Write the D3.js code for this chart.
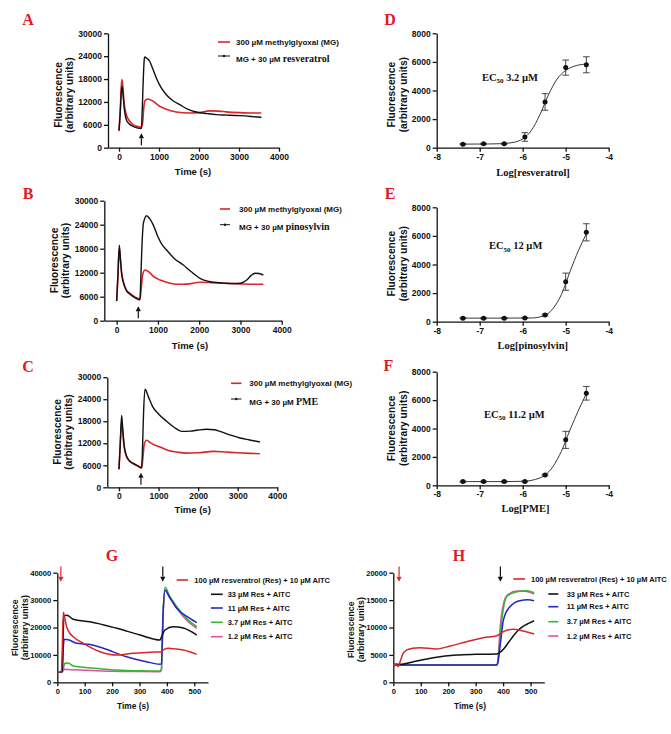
<!DOCTYPE html>
<html><head><meta charset="utf-8">
<script src="https://cdn.jsdelivr.net/npm/d3@7"></script>
<style>body{margin:0;background:#fff}</style>
</head><body>
<svg id="chart" width="671" height="734" style="background:#fff"></svg>
<script>
// ---------------- DATA ----------------
// Time-course panels A-C: [time (s), fluorescence]
const timeTicksAC = [0, 1000, 2000, 3000, 4000];
const fluoTicksAC = [0, 6000, 12000, 18000, 24000, 30000];

const A_MG = [[0,4460],[30,9500],[60,16500],[75,17850],[100,15500],[130,11500],[183,8660],[250,7200],[350,6040],[450,5600],[560,5300],[590,6500],[620,10500],[650,12300],[725,12780],[850,12200],[1017,10860],[1200,10000],[1433,9370],[1767,9100],[2000,9200],[2267,9650],[2500,9600],[2683,9400],[3000,9200],[3300,9100],[3558,9100]];
const A_RES = [[0,4460],[30,9000],[60,15000],[80,16000],[100,14000],[130,10500],[183,7350],[250,6300],[350,5600],[450,5200],[558,4990],[575,8000],[600,16000],[630,23000],[643,23800],[700,23400],[767,22670],[850,20500],[933,18300],[1050,15800],[1183,13900],[1350,12300],[1517,11290],[1700,10200],[1933,9370],[2200,8950],[2433,8660],[2700,8550],[3017,8400],[3300,8200],[3558,7980]];

const B_MG = [[0,4925],[30,11000],[64,18100],[90,15500],[120,12000],[162,9750],[230,7800],[323,6850],[450,5900],[565,5425],[590,7500],[630,11500],[687,12675],[780,12200],[900,11000],[1050,10175],[1250,9500],[1455,9100],[1700,9150],[2020,9600],[2300,9500],[2600,9350],[3000,9200],[3300,9100],[3555,9100]];
const B_PIN = [[0,4925],[30,11500],[64,18900],[90,15500],[120,11800],[162,9500],[230,7600],[323,6600],[450,5700],[565,5200],[580,9000],[610,18000],[650,24500],[727,26250],[800,25500],[888,23900],[1000,21000],[1100,19000],[1212,17675],[1400,15500],[1616,13925],[1800,12300],[2020,10600],[2200,9900],[2343,9600],[2600,9400],[2800,9300],[2990,9350],[3080,9700],[3152,10175],[3250,11200],[3353,11850],[3450,11800],[3555,11425]];

const C_MG = [[0,4900],[30,11000],[67,17800],[95,15000],[130,11000],[194,8250],[260,7200],[361,6430],[470,5800],[573,5260],[600,7500],[640,11800],[700,12800],[800,12100],[900,11500],[1035,10980],[1250,10000],[1457,9600],[1700,9300],[2000,9400],[2383,9800],[2700,9600],[3000,9400],[3300,9250],[3560,9160]];
const C_PME = [[0,4900],[30,11500],[67,19600],[95,16000],[130,11500],[194,8500],[260,7300],[361,6500],[470,5900],[573,5300],[590,9000],[620,20000],[657,26700],[750,24500],[850,22000],[993,20050],[1204,17980],[1400,16300],[1583,15250],[1800,15300],[2000,15600],[2214,15800],[2400,15700],[2550,15250],[2800,14300],[3056,13430],[3300,12900],[3560,12340]];

// Concentration-response panels D-F
const logConc = [-7.39, -6.91, -6.43, -5.95, -5.48, -5.0, -4.52];
const logTicks = [-8, -7, -6, -5, -4];
const fluoTicksDF = [0, 2000, 4000, 6000, 8000];
const D_mean = [250, 270, 280, 750, 3200, 5600, 5800];
const D_err  = [40, 40, 40, 300, 580, 530, 560];
const E_mean = [250, 240, 250, 260, 470, 2800, 6250];
const E_err  = [40, 40, 40, 40, 60, 600, 600];
const F_mean = [260, 260, 260, 270, 720, 3200, 6480];
const F_err  = [40, 40, 40, 40, 60, 600, 480];
// fitted curves: [log conc, fluorescence]
const D_fit = [[-7.39,250],[-6.8,260],[-6.5,280],[-6.2,380],[-6.0,620],[-5.8,1200],[-5.6,2300],[-5.4,3700],[-5.2,4800],[-5.0,5400],[-4.8,5700],[-4.52,5850]];
const E_fit = [[-7.39,250],[-6.5,250],[-5.8,260],[-5.5,420],[-5.3,900],[-5.1,1900],[-4.9,3500],[-4.7,5000],[-4.52,6150]];
const F_fit = [[-7.39,260],[-6.5,260],[-6.0,280],[-5.7,420],[-5.48,720],[-5.3,1300],[-5.1,2400],[-4.9,3900],[-4.7,5300],[-4.52,6450]];

// Panels G, H: [time (s), fluorescence]
const timeTicksGH = [0, 100, 200, 300, 400, 500];
const fluoTicksG = [0, 10000, 20000, 30000, 40000];
const fluoTicksH = [0, 5000, 10000, 15000, 20000];
const G_100 = [[0,3870],[15,3870],[18,12000],[22,25550],[28,23000],[34,20300],[45,18000],[58,16640],[95,14230],[156,11170],[217,9960],[277,10580],[340,11000],[378,11100],[390,12000],[405,12400],[430,12200],[460,11800],[509,10200]];
const G_33  = [[0,3870],[18,3870],[21,15000],[24,24200],[35,24500],[58,23000],[119,22100],[217,19700],[302,17260],[375,15440],[380,16500],[393,19090],[423,20300],[460,19800],[509,17260]];
const G_11  = [[0,3870],[18,3870],[22,13000],[27,15700],[40,15500],[71,14230],[120,13800],[168,12400],[253,9340],[326,7520],[375,6570],[380,6700],[386,25000],[393,33700],[410,31000],[436,27000],[484,23360],[509,21750]];
const G_3_7 = [[0,3870],[18,3870],[28,6930],[40,7000],[58,5950],[95,5470],[150,5000],[217,4490],[300,4200],[375,4120],[380,5000],[386,25000],[393,34670],[410,31500],[436,27600],[480,22500],[509,20300]];
const G_1_2 = [[0,3870],[18,3870],[25,4740],[50,4600],[100,4380],[200,4000],[300,3900],[375,3870],[380,4500],[386,24000],[393,33500],[410,31000],[436,27000],[480,21900],[509,19700]];

const H_100 = [[0,3280],[12,3280],[18,2850],[25,3800],[35,5200],[49,5900],[70,6200],[97,6320],[158,6080],[207,6620],[267,7410],[328,8140],[377,8500],[390,8900],[401,9240],[436,9670],[474,9360],[513,8810]];
const H_33  = [[0,3300],[30,3300],[73,3760],[146,4490],[231,4980],[300,5100],[377,5160],[390,5500],[401,6020],[420,7300],[437,8450],[455,9500],[474,10270],[495,10800],[513,11240]];
const H_11  = [[0,3160],[100,3160],[200,3160],[300,3160],[375,3160],[380,3400],[390,7000],[401,11370],[425,13800],[461,14900],[490,15050],[513,14900]];
const H_3_7 = [[0,3160],[100,3160],[200,3160],[300,3160],[378,3160],[384,5000],[392,10000],[401,13500],[413,15620],[450,16530],[486,16720],[513,16350]];
const H_1_2 = [[0,3160],[100,3160],[200,3160],[300,3160],[378,3160],[383,5500],[390,10500],[400,14000],[413,15800],[450,16650],[480,16600],[513,16100]];

// ---------------- DRAWING ----------------
const svg = d3.select("#chart");
const SANS = "'Liberation Sans', Arial, sans-serif";
const SERIF = "'Liberation Serif', 'Times New Roman', serif";
const RED = "#d8262c", BLACK = "#111111", BLUE = "#2626c4", GREEN = "#36b436", PINK = "#e050a8", LABELRED = "#e3181f";

function styleAxis(a, fs) {
  a.select(".domain").attr("stroke", BLACK).attr("stroke-width", 1.3);
  a.selectAll(".tick line").attr("stroke", BLACK).attr("stroke-width", 1.3);
  a.selectAll("text").attr("font-family", SANS).attr("font-weight", "bold")
    .attr("font-size", fs).attr("fill", BLACK);
}
function drawAxes(x, y, xTicks, yTicks, fs) {
  const fmt = d => String(d);
  const gx = svg.append("g").attr("transform", `translate(0,${y.range()[0]})`)
    .call(d3.axisBottom(x).tickValues(xTicks).tickSize(4).tickSizeOuter(0).tickPadding(2).tickFormat(fmt));
  const gy = svg.append("g").attr("transform", `translate(${x.range()[0]},0)`)
    .call(d3.axisLeft(y).tickValues(yTicks).tickSize(4).tickSizeOuter(0).tickPadding(2).tickFormat(fmt));
  styleAxis(gx, fs); styleAxis(gy, fs);
}
function yTitle(cx, cy, fs, dx) {
  [["Fluorescence", 0], ["(arbitrary units)", dx]].forEach(([t, off]) => {
    svg.append("text").attr("transform", `translate(${cx + off},${cy}) rotate(-90)`)
      .attr("text-anchor", "middle").attr("dy", "0.35em")
      .attr("font-family", SANS).attr("font-weight", "bold").attr("font-size", fs)
      .attr("fill", BLACK).text(t);
  });
}
function xTitle(cx, cy, fs, text, serif) {
  svg.append("text").attr("x", cx).attr("y", cy).attr("dy", "0.35em").attr("text-anchor", "middle")
    .attr("font-family", serif ? SERIF : SANS).attr("font-weight", "bold").attr("font-size", fs)
    .attr("fill", BLACK).text(text);
}
function panelLabel(cx, cy, t) {
  svg.append("text").attr("x", cx).attr("y", cy).attr("dy", "0.35em").attr("text-anchor", "middle")
    .attr("font-family", SERIF).attr("font-weight", "bold").attr("font-size", 16)
    .attr("fill", LABELRED).text(t);
}
function drawLine(x, y, data, color, w) {
  const line = d3.line().x(d => x(d[0])).y(d => y(d[1])).curve(d3.curveMonotoneX);
  svg.append("path").datum(data).attr("d", line).attr("fill", "none")
    .attr("stroke", color).attr("stroke-width", w).attr("stroke-linejoin", "round");
}
function arrow(px, yTop, yBot, color, up) {
  const tip = up ? yTop : yBot, base = up ? yTop + 5 : yBot - 5;
  svg.append("line").attr("x1", px).attr("x2", px).attr("y1", up ? base : yTop).attr("y2", up ? yBot : base)
    .attr("stroke", color).attr("stroke-width", 1.2);
  svg.append("path").attr("d", `M${px},${tip}L${px - 2.6},${base}L${px + 2.6},${base}Z`).attr("fill", color);
}

// ---- Panels A-C ----
const acPanels = [
  { lab: "A", labY: 19, xr: [108, 279], x0: -275, yr: [147.7, 33.3], mg: A_MG, cmp: A_RES, name: "resveratrol",
    arrowT: 560, yt: [58, 95], xt: [193, 172], leg: { l1: 218, l2: 230, tx: 236, y1: 42, y2: 56 } },
  { lab: "B", labY: 193, xr: [104.3, 281.7], x0: -300, yr: [320.7, 200.7], mg: B_MG, cmp: B_PIN, name: "pinosylvin",
    arrowT: 524, yt: [54, 260.5], xt: [190, 345.7], leg: { l1: 220, l2: 230, tx: 239, y1: 209, y2: 224.7 } },
  { lab: "C", labY: 366.7, xr: [107.3, 277.3], x0: -295, yr: [487.3, 377.2], mg: C_MG, cmp: C_PME, name: "PME",
    arrowT: 555, yt: [57, 432], xt: [192.7, 510], leg: { l1: 231, l2: 241.5, tx: 249.3, y1: 383.3, y2: 399 } }
];
acPanels.forEach(p => {
  const x = d3.scaleLinear().domain([p.x0, 4000]).range(p.xr);
  const y = d3.scaleLinear().domain([0, 30000]).range(p.yr);
  drawAxes(x, y, timeTicksAC, fluoTicksAC, 8.5);
  drawLine(x, y, p.mg, RED, 1.6);
  drawLine(x, y, p.cmp, BLACK, 1.4);
  panelLabel(28, p.labY, p.lab);
  yTitle(p.yt[0], p.yt[1], 10.2, 11.5);
  xTitle(p.xt[0], p.xt[1], 9.5, "Time (s)", false);
  const ax = x(p.arrowT);
  arrow(ax, y(0) - 14.5, y(0) - 2.5, BLACK, true);
  // legend
  const L = p.leg;
  svg.append("line").attr("x1", L.l1).attr("x2", L.l2).attr("y1", L.y1).attr("y2", L.y1).attr("stroke", RED).attr("stroke-width", 1.6);
  svg.append("text").attr("x", L.tx).attr("y", L.y1).attr("dy", "0.35em").attr("font-family", SANS)
    .attr("font-weight", "bold").attr("font-size", 8).attr("fill", BLACK).text("300 µM methylglyoxal (MG)");
  svg.append("line").attr("x1", L.l1).attr("x2", L.l2).attr("y1", L.y2).attr("y2", L.y2).attr("stroke", BLACK).attr("stroke-width", 1);
  svg.append("circle").attr("cx", (L.l1 + L.l2) / 2).attr("cy", L.y2).attr("r", 1.2).attr("fill", BLACK);
  const t = svg.append("text").attr("x", L.tx).attr("y", L.y2).attr("dy", "0.35em").attr("fill", BLACK).attr("font-weight", "bold");
  t.append("tspan").attr("font-family", SANS).attr("font-size", 8).text("MG + 30 µM ");
  t.append("tspan").attr("font-family", SERIF).attr("font-size", 10).text(p.name);
});

// ---- Panels D-F ----
const dfPanels = [
  { lab: "D", labX: 390, labY: 19, yr: [147.7, 33.3], mean: D_mean, err: D_err, fit: D_fit, xl: "Log[resveratrol]", xt: [533, 172], yt: 94.7, ec: "3.2 µM", ecX: 482, ecY: 77 },
  { lab: "E", labX: 390, labY: 193, yr: [321.7, 207.3], mean: E_mean, err: E_err, fit: E_fit, xl: "Log[pinosylvin]", xt: [532.7, 345.7], yt: 263.7, ec: "12 µM", ecX: 489, ecY: 245.7 },
  { lab: "F", labX: 388.3, labY: 365, yr: [485.3, 371.7], mean: F_mean, err: F_err, fit: F_fit, xl: "Log[PME]", xt: [525.5, 508.3], yt: 428.3, ec: "11.2 µM", ecX: 484, ecY: 414 }
];
dfPanels.forEach(p => {
  const x = d3.scaleLinear().domain([-8, -4]).range([436.7, 608.7]);
  const y = d3.scaleLinear().domain([0, 8000]).range(p.yr);
  drawAxes(x, y, logTicks, fluoTicksDF, 8.5);
  // fitted curve
  svg.append("path").datum(p.fit).attr("fill", "none").attr("stroke", "#222").attr("stroke-width", 0.9)
    .attr("d", d3.line().x(d => x(d[0])).y(d => y(d[1])).curve(d3.curveMonotoneX));
  // error bars
  logConc.forEach((c, i) => {
    const cx = x(c), top = y(p.mean[i] + p.err[i]), bot = y(p.mean[i] - p.err[i]);
    const g = svg.append("g").attr("stroke", "#333").attr("stroke-width", 0.9);
    g.append("line").attr("x1", cx).attr("x2", cx).attr("y1", top).attr("y2", bot);
    g.append("line").attr("x1", cx - 3.3).attr("x2", cx + 3.3).attr("y1", top).attr("y2", top);
    g.append("line").attr("x1", cx - 3.3).attr("x2", cx + 3.3).attr("y1", bot).attr("y2", bot);
  });
  svg.append("g").selectAll("circle").data(logConc).join("circle")
    .attr("cx", d => x(d)).attr("cy", (d, i) => y(p.mean[i])).attr("r", 2.5).attr("fill", BLACK);
  panelLabel(p.labX, p.labY, p.lab);
  yTitle(391.7, p.yt, 10.2, 11.5);
  xTitle(p.xt[0], p.xt[1], 10.5, p.xl, true);
  const t = svg.append("text").attr("x", p.ecX).attr("y", p.ecY).attr("dy", "0.35em")
    .attr("font-family", SERIF).attr("font-weight", "bold").attr("font-size", 10.5).attr("fill", BLACK);
  t.append("tspan").text("EC");
  t.append("tspan").attr("font-size", 7).attr("dy", 2.5).text("50");
  t.append("tspan").attr("dy", -2.5).text(" " + p.ec);
});

// ---- Panels G, H ----
const ghNames = ["100 µM resveratrol (Res) + 10 µM AITC", "33 µM Res + AITC", "11 µM Res + AITC", "3.7 µM Res + AITC", "1.2 µM Res + AITC"];
const ghColors = [RED, BLACK, BLUE, GREEN, PINK];
const ghPanels = [
  { lab: "G", labX: 112, xr: [57.3, 208], ymax: 40000, yTicks: fluoTicksG, series: [G_100, G_33, G_11, G_3_7, G_1_2],
    arrows: [13, 385], yt: [15, 627.7], xt: [133, 706],
    leg: { r1: 176.7, r2: 188, rtx: 194.3, l1: 211, l2: 222.7, tx: 227.7, ys: [580, 594.3, 608, 622.3, 636.7] } },
  { lab: "H", labX: 459, xr: [393.3, 544.3], ymax: 20000, yTicks: fluoTicksH, series: [H_100, H_33, H_11, H_3_7, H_1_2],
    arrows: [21, 390], yt: [350.7, 629.7], xt: [470, 706],
    leg: { r1: 513.3, r2: 525, rtx: 531, l1: 548.3, l2: 558.3, tx: 566.7, ys: [579, 594, 606.7, 621.7, 636] } }
];
ghPanels.forEach(p => {
  const x = d3.scaleLinear().domain([0, 550]).range(p.xr);
  const y = d3.scaleLinear().domain([0, p.ymax]).range([682.3, 572.7]);
  drawAxes(x, y, timeTicksGH, p.yTicks, 7.6);
  [4, 3, 2, 1, 0].forEach(i => drawLine(x, y, p.series[i], ghColors[i], 1.5));
  panelLabel(p.labX, 555, p.lab);
  yTitle(p.yt[0], p.yt[1], 8.8, 10.3);
  xTitle(p.xt[0], p.xt[1], 8.4, "Time (s)", false);
  arrow(x(p.arrows[0]), 566.5, 581.7, RED, false);
  arrow(x(p.arrows[1]), 566.5, 581.7, BLACK, false);
  const L = p.leg;
  ghNames.forEach((n, i) => {
    const a = i === 0 ? L.r1 : L.l1, b = i === 0 ? L.r2 : L.l2, tx = i === 0 ? L.rtx : L.tx;
    svg.append("line").attr("x1", a).attr("x2", b).attr("y1", L.ys[i]).attr("y2", L.ys[i])
      .attr("stroke", ghColors[i]).attr("stroke-width", 1.6);
    svg.append("text").attr("x", tx).attr("y", L.ys[i]).attr("dy", "0.35em").attr("font-family", SANS)
      .attr("font-weight", "bold").attr("font-size", 7.5).attr("fill", BLACK).text(n);
  });
});
</script>
</body></html>
